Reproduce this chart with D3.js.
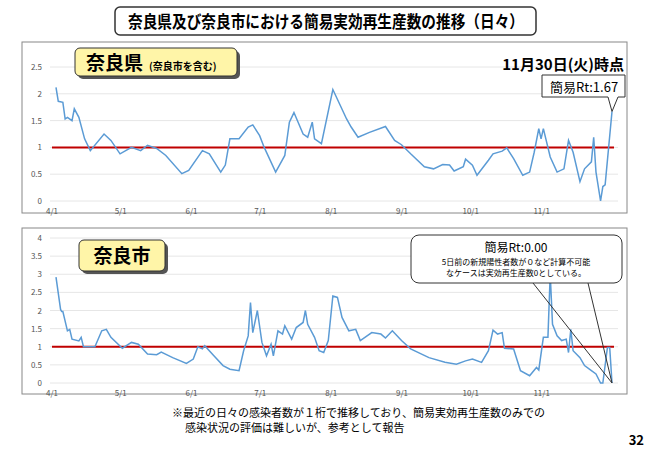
<!DOCTYPE html><html><head><meta charset="utf-8">
<script src="https://cdn.jsdelivr.net/npm/d3@7"></script>
<style>body{margin:0;background:#fff;font-family:"Noto Sans CJK JP","Noto Sans",sans-serif}</style></head><body>
<svg id="c" width="650" height="449"></svg>
<script>
const monthTicks=[0,30,61,91,122,153,183,214];
const monthLabels=["4/1","5/1","6/1","7/1","8/1","9/1","10/1","11/1"];
const prefDays=[0,1,3,4,5,7,8,10,12.5,15,21,24,28,33,37,40,44,48,55,58,64,67,72,74,76,80,84,86,89,91,96,100,102,104,108,110,112,113,116,121,127,129,132,137,144,148,151,155,161,165,169,172,174,178,179,182,184,189,191,195,197,200,204,207,209,211,212,213,216,219,222,224,226,229,231,234,235,236,238,239,240,243];
const prefVals=[2.12,1.86,1.84,1.53,1.56,1.5,1.72,1.56,1.16,0.94,1.25,1.13,0.88,1.0,0.94,1.04,0.98,0.85,0.51,0.57,0.94,0.88,0.54,0.67,1.16,1.16,1.38,1.42,1.22,1.0,0.54,0.85,1.47,1.65,1.25,1.19,1.47,1.16,1.07,2.08,1.53,1.38,1.19,1.28,1.39,1.13,1.05,0.88,0.64,0.6,0.68,0.67,0.56,0.64,0.78,0.67,0.48,0.76,0.88,0.93,0.99,0.79,0.48,0.54,0.91,1.35,1.16,1.35,0.82,0.54,0.6,1.13,0.91,0.36,0.6,0.73,1.19,0.54,0,0.27,0.3,1.67];
const cityDays=[0,2,2.5,3,5,6,7,10,11,12,17,20,22,24,29,33,36,40,44,46,51,57,60,62,64,65,69,73,76,80,82,84,85,86,88,90,92,94,95,97,99,100,103,105,108,109,110,113,115,117,119,121,123,125,128,131,133,138,142,144,147,151,155,163,170,175,179,182,186,189,191,193,195,196,200,203,207,210,211,213,215,216,217,219,221,223,224,225,226,229,231,234,236,238,239,241,242,243];
const cityVals=[2.92,2.03,1.97,1.97,1.44,1.48,1.21,1.16,1.26,1.0,1.0,1.44,1.48,1.26,0.96,1.12,1.07,0.8,0.78,0.85,0.7,0.54,0.66,1.0,0.94,1.03,0.75,0.48,0.38,0.34,0.89,1.3,2.22,1.39,2.0,1.12,0.75,1.07,0.75,1.44,1.35,1.58,1.21,1.53,1.67,2.0,1.62,1.26,0.89,0.84,1.17,2.4,2.36,1.81,1.44,1.48,1.17,1.39,1.35,1.24,1.44,1.17,0.94,0.7,0.57,0.52,0.61,0.66,0.57,0.89,1.46,1.35,1.39,0.96,0.94,0.34,0.2,0.43,0.36,1.26,1.26,3.0,1.62,1.3,1.17,1.21,0.84,1.48,0.89,0.7,0.48,0.34,0.25,0,0,0.98,0.98,0];
const prefTicks=[0,0.5,1,1.5,2,2.5];
const cityTicks=[0,0.5,1,1.5,2,2.5,3,3.5,4];

const svg=d3.select("#c");
const x=d3.scaleLinear().domain([0,243]).range([56,612]);
function panel(top,bottom,y0,y1,ymax,ticks,days,vals){
  svg.append("rect").attr("x",22).attr("y",top).attr("width",605).attr("height",bottom-top).attr("fill","#fff").attr("stroke","#888");
  const y=d3.scaleLinear().domain([0,ymax]).range([y0,y1]);
  const g=svg.append("g");
  ticks.forEach(t=>{
    g.append("line").attr("x1",50).attr("x2",618).attr("y1",y(t)).attr("y2",y(t)).attr("stroke","#e6e6e6");
    g.append("text").attr("x",42).attr("y",y(t)+3).attr("text-anchor","end").attr("font-size",8).attr("fill","#555").text(t);
  });
  monthTicks.forEach((m,i)=>g.append("text").attr("x",x(m)-4).attr("y",y0+13).attr("text-anchor","middle").attr("font-size",8).attr("fill","#555").text(monthLabels[i]));
  g.append("line").attr("x1",52).attr("x2",614).attr("y1",y(1)).attr("y2",y(1)).attr("stroke","#c00000").attr("stroke-width",2);
  g.append("path").datum(days.map((d,i)=>[d,vals[i]])).attr("fill","none").attr("stroke","#5b9bd5").attr("stroke-width",1.5)
   .attr("d",d3.line().x(d=>x(d[0])).y(d=>y(d[1])));
  return y;
}
const yp=panel(42,213,201,67,2.5,prefTicks,prefDays,prefVals);
const yc=panel(228,394,383,238,4,cityTicks,cityDays,cityVals);

// title
svg.append("rect").attr("x",115).attr("y",7).attr("width",421).attr("height",28).attr("rx",5).attr("fill","#fff").attr("stroke","#333").attr("stroke-width",1.5);
svg.append("text").attr("x",128).attr("y",28).attr("font-size",17).attr("font-weight","bold").attr("textLength",396).attr("lengthAdjust","spacingAndGlyphs").text("奈良県及び奈良市における簡易実効再生産数の推移（日々）");
// label boxes
function ybox(x0,y0,w,h){svg.append("rect").attr("x",x0+3).attr("y",y0+3).attr("width",w).attr("height",h).attr("rx",5).attr("fill","#555");
 svg.append("rect").attr("x",x0).attr("y",y0).attr("width",w).attr("height",h).attr("rx",5).attr("fill","#fff5a8").attr("stroke","#333");}
ybox(75,48,162,28);
const t1=svg.append("text").attr("x",86).attr("y",70).attr("font-weight","bold");
t1.append("tspan").attr("font-size",19).text("奈良県");
t1.append("tspan").attr("font-size",10).attr("dx",6).text("(奈良市を含む)");
ybox(79,240,86,31);
svg.append("text").attr("x",122).attr("y",263).attr("text-anchor","middle").attr("font-size",19).attr("font-weight","bold").text("奈良市");
svg.append("text").attr("x",624).attr("y",70).attr("text-anchor","end").attr("font-size",15).attr("font-weight","bold").text("11月30日(火)時点");
// callout top
svg.append("path").attr("d",`M542,75 H625 V97 H618 L${x(243)},${yp(1.67)} L608,97 H542 Z`).attr("fill","#fff").attr("stroke","#333");
svg.append("text").attr("x",584).attr("y",92).attr("text-anchor","middle").attr("font-size",13).text("簡易Rt:1.67");
// callout bottom
svg.append("rect").attr("x",411).attr("y",235).attr("width",211).attr("height",48).attr("rx",8).attr("fill","#fff").attr("stroke","#333");
svg.append("line").attr("x1",533).attr("y1",283).attr("x2",x(243)).attr("y2",yc(0)).attr("stroke","#333");
svg.append("line").attr("x1",588).attr("y1",283).attr("x2",x(243)).attr("y2",yc(0)).attr("stroke","#333");
svg.append("text").attr("x",516).attr("y",252).attr("text-anchor","middle").attr("font-size",12).text("簡易Rt:0.00");
svg.append("text").attr("x",516).attr("y",265).attr("text-anchor","middle").attr("font-size",8).text("5日前の新規陽性者数が０など計算不可能");
svg.append("text").attr("x",516).attr("y",276).attr("text-anchor","middle").attr("font-size",8).text("なケースは実効再生産数0としている。");
// footnote
svg.append("text").attr("x",172).attr("y",417).attr("font-size",11).text("※最近の日々の感染者数が１桁で推移しており、簡易実効再生産数のみでの");
svg.append("text").attr("x",185).attr("y",432).attr("font-size",11).text("感染状況の評価は難しいが、参考として報告");
svg.append("text").attr("x",644).attr("y",445).attr("text-anchor","end").attr("font-size",13).attr("font-weight","bold").text("32");
</script></body></html>
